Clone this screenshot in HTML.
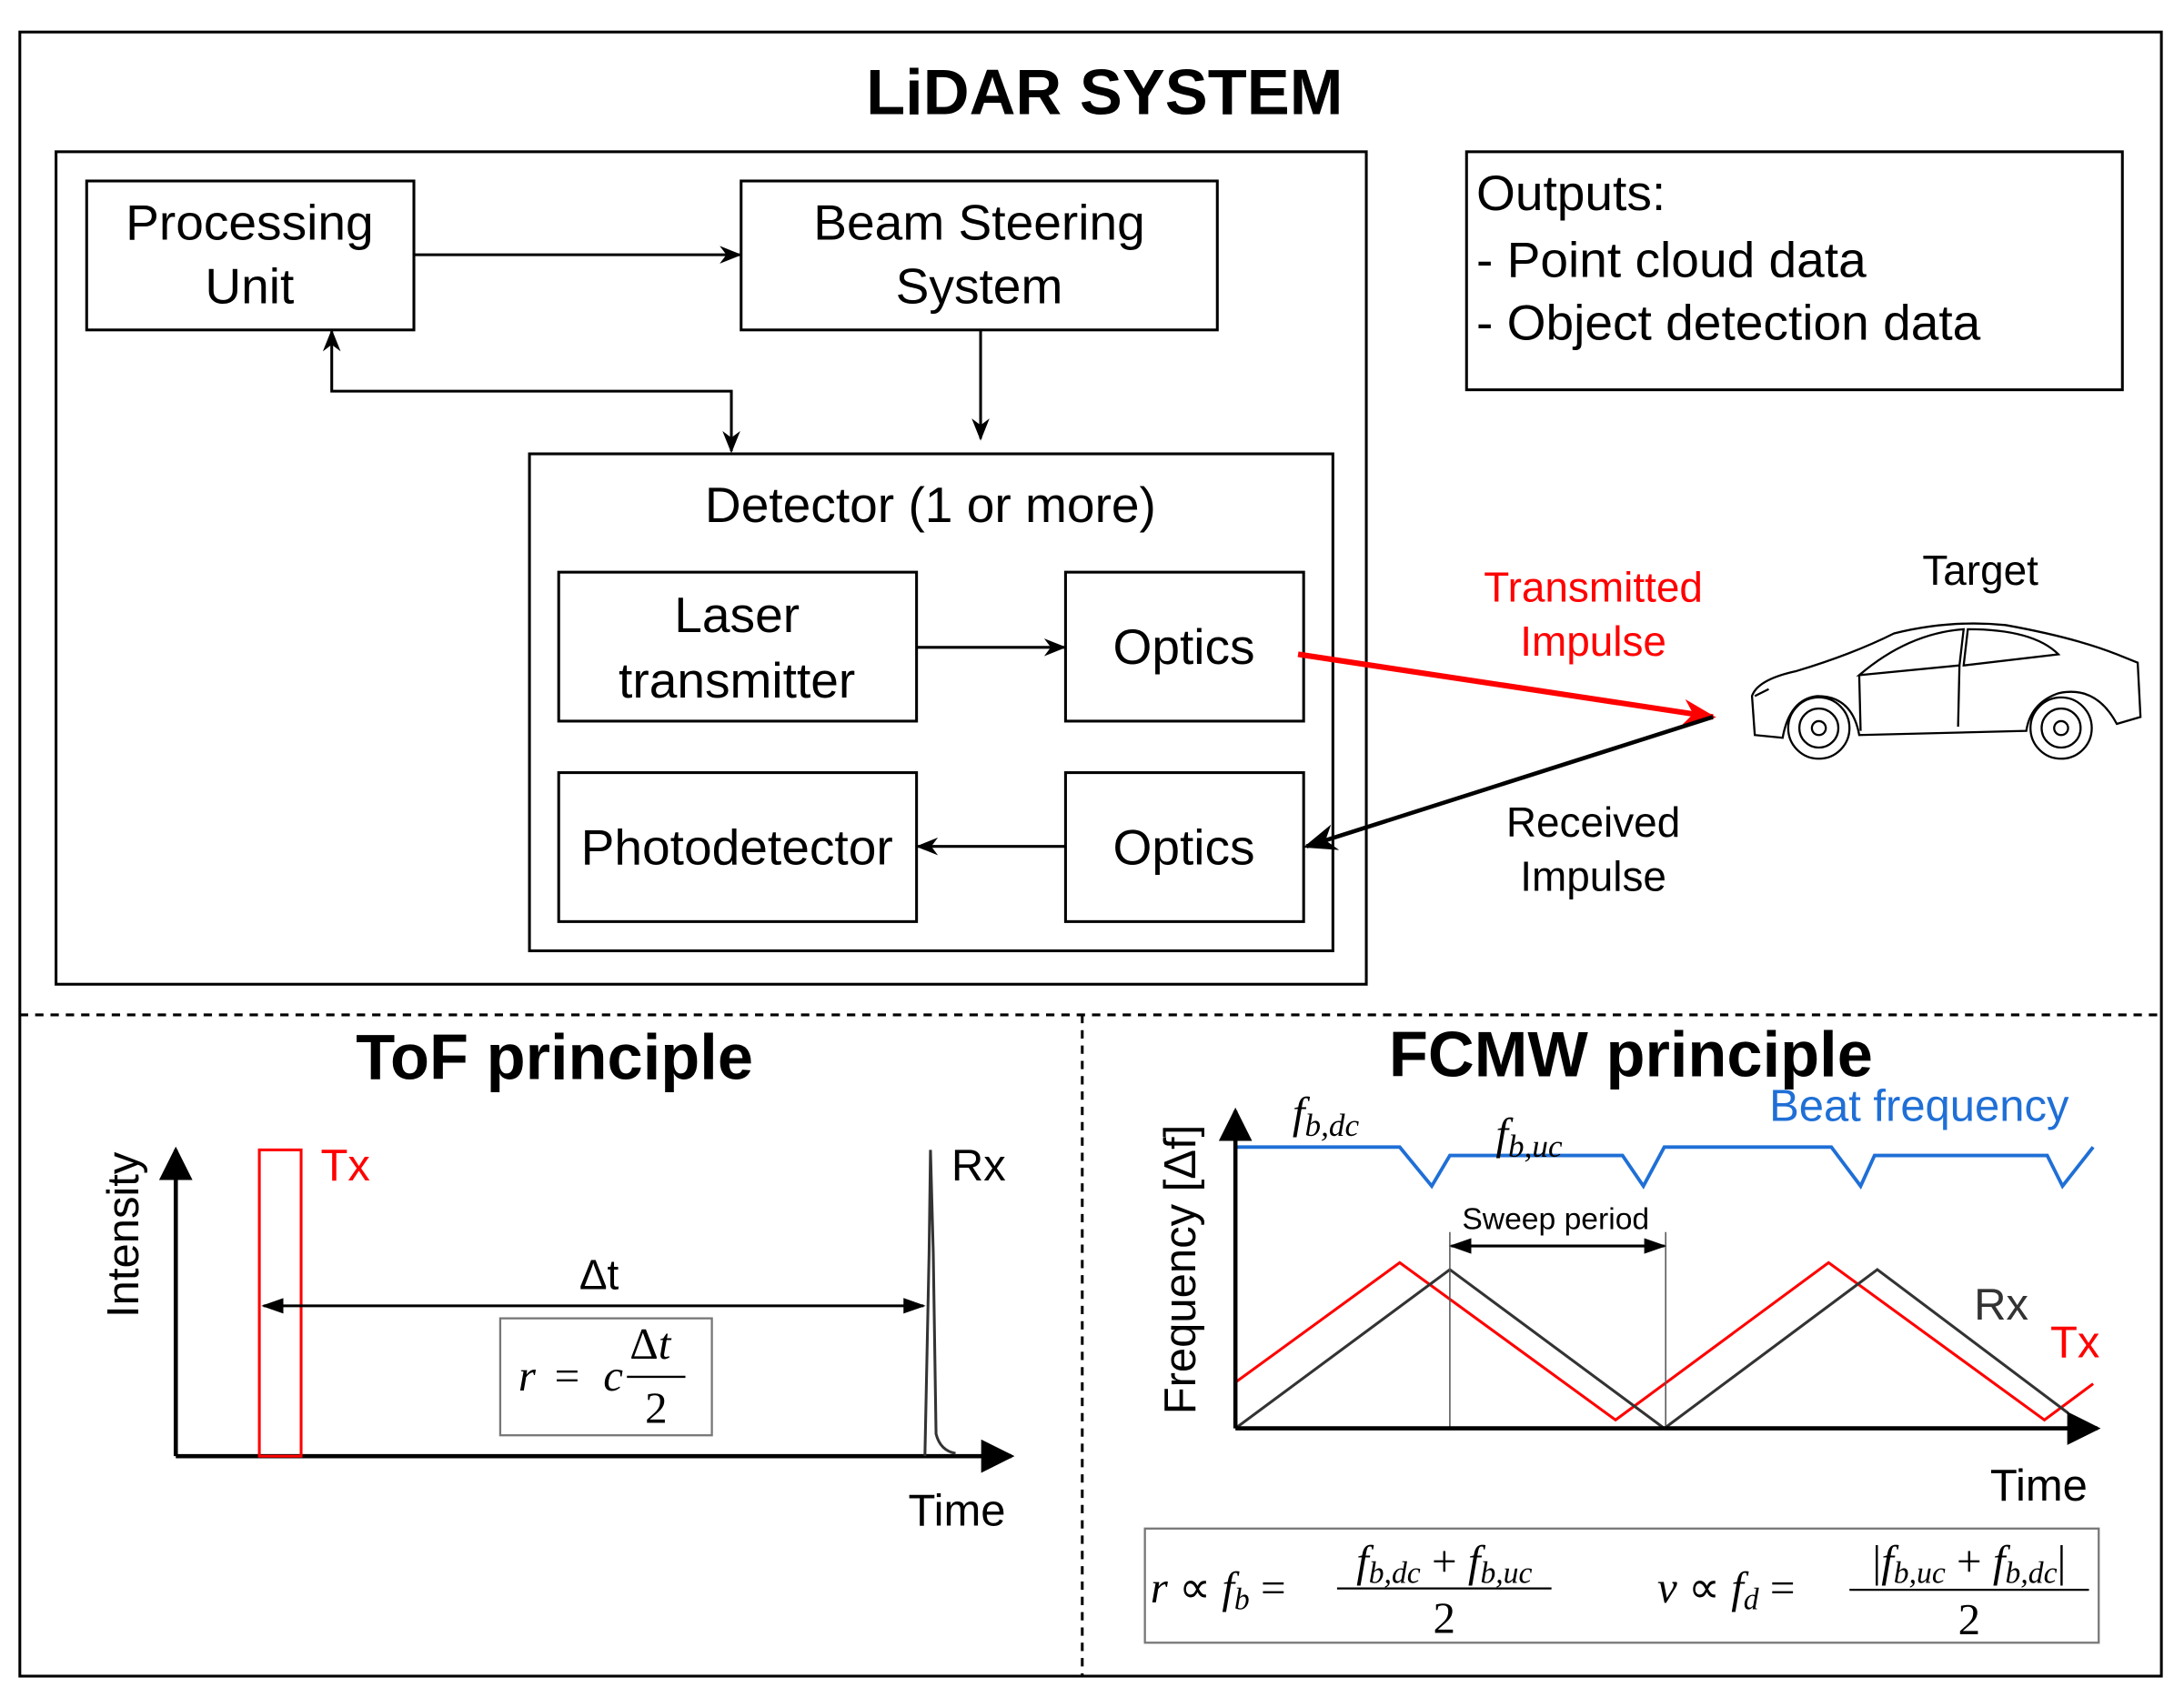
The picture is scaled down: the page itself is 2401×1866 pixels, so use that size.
<!DOCTYPE html>
<html><head><meta charset="utf-8"><style>html,body{margin:0;padding:0;background:#fff}svg{display:block}</style></head>
<body>
<svg width="2401" height="1866" viewBox="0 0 1568 1219" xmlns="http://www.w3.org/2000/svg" font-family="Liberation Sans, sans-serif">
<defs>
<marker id="a" viewBox="0 0 10 10" refX="9" refY="5" markerWidth="16" markerHeight="16" orient="auto-start-reverse" markerUnits="userSpaceOnUse"><path d="M0,1 L10,5 L0,9 L3,5z" fill="#000"/></marker>
<marker id="ab" viewBox="0 0 10 10" refX="9" refY="5" markerWidth="16" markerHeight="16" orient="auto-start-reverse" markerUnits="userSpaceOnUse"><path d="M0,1.5 L10,5 L0,8.5z" fill="#000"/></marker>
<marker id="ar" viewBox="0 0 10 10" refX="9" refY="5" markerWidth="24" markerHeight="24" orient="auto" markerUnits="userSpaceOnUse"><path d="M0,1 L10,5 L0,9 L3,5z" fill="red"/></marker>
<marker id="ak" viewBox="0 0 10 10" refX="9" refY="5" markerWidth="24" markerHeight="24" orient="auto" markerUnits="userSpaceOnUse"><path d="M0,1 L10,5 L0,9 L3,5z" fill="#000"/></marker>
<marker id="am" viewBox="0 0 10 10" refX="9" refY="5" markerWidth="24" markerHeight="24" orient="auto" markerUnits="userSpaceOnUse"><path d="M0,0 L10,5 L0,10z" fill="#000"/></marker>
</defs>
<rect x="14" y="23" width="1538" height="1181" fill="none" stroke="#000" stroke-width="2"/>
<text x="793" y="82" font-size="46" font-weight="bold" text-anchor="middle">LiDAR SYSTEM</text>
<g fill="none" stroke="#000" stroke-width="2">
<rect x="40" y="109" width="941" height="598"/>
<rect x="62" y="130" width="235" height="107"/>
<rect x="532" y="130" width="342" height="107"/>
<rect x="1053" y="109" width="471" height="171"/>
<rect x="380" y="326" width="577" height="357"/>
<rect x="401" y="411" width="257" height="107"/>
<rect x="765" y="411" width="171" height="107"/>
<rect x="401" y="555" width="257" height="107"/>
<rect x="765" y="555" width="171" height="107"/>
<line x1="297" y1="183" x2="531" y2="183" marker-end="url(#a)"/>
<polyline points="238,238 238,281 525,281 525,324" marker-start="url(#a)" marker-end="url(#a)"/>
<line x1="704" y1="237" x2="704" y2="315" marker-end="url(#a)"/>
<line x1="658" y1="465" x2="764" y2="465" marker-end="url(#a)"/>
<line x1="765" y1="608" x2="659" y2="608" marker-end="url(#a)"/>
<line x1="932" y1="470" x2="1230" y2="515" stroke="red" stroke-width="4" marker-end="url(#ar)"/>
<line x1="1230" y1="515" x2="938" y2="608" stroke-width="3" marker-end="url(#ak)"/>
</g>
<g font-size="36" text-anchor="middle">
<text x="179" y="172">Processing</text><text x="179" y="218">Unit</text>
<text x="703" y="172">Beam Steering</text><text x="703" y="218">System</text>
<text x="668" y="375">Detector (1 or more)</text>
<text x="529" y="454">Laser</text><text x="529" y="501">transmitter</text>
<text x="850" y="477">Optics</text>
<text x="529" y="621">Photodetector</text>
<text x="850" y="621">Optics</text>
</g>
<g font-size="36"><text x="1060" y="151">Outputs:</text><text x="1060" y="199">- Point cloud data</text><text x="1060" y="244">- Object detection data</text></g>
<g font-size="30" text-anchor="middle">
<text x="1144" y="432" fill="red">Transmitted</text><text x="1144" y="471" fill="red">Impulse</text>
<text x="1144" y="601">Received</text><text x="1144" y="640">Impulse</text>
<text x="1422" y="420">Target</text>
</g>
<g fill="none" stroke="#000" stroke-width="1.5">
<path d="M1260,528 L1258,500 Q1262,488 1290,482 Q1330,470 1360,455 Q1400,445 1440,449 Q1490,458 1520,470 L1535,476 L1537,515 L1520,520 Q1505,492 1478,498 Q1458,505 1455,525 L1335,528 Q1330,500 1305,500 Q1285,502 1280,530 Z"/>
<circle cx="1306" cy="523" r="22"/><circle cx="1306" cy="523" r="14"/><circle cx="1306" cy="523" r="5"/>
<circle cx="1480" cy="523" r="22"/><circle cx="1480" cy="523" r="14"/><circle cx="1480" cy="523" r="5"/>
<path d="M1335,485 Q1370,455 1410,452 L1407,478 Z M1413,452 Q1460,452 1478,470 L1410,478 Z"/>
<path d="M1407,478 L1406,522 M1335,485 L1336,525 M1260,500 L1270,495"/>
</g>
<g stroke="#000" stroke-width="2" stroke-dasharray="6,5"><line x1="14" y1="729" x2="1552" y2="729"/><line x1="777" y1="729" x2="777" y2="1204"/></g>
<text x="398" y="775" font-size="46" font-weight="bold" text-anchor="middle">ToF principle</text>
<text x="1171" y="773" font-size="46" font-weight="bold" text-anchor="middle">FCMW principle</text>
<g fill="none" stroke="#000" stroke-width="3">
<line x1="126" y1="1046" x2="126" y2="826" marker-end="url(#am)"/>
<line x1="126" y1="1046" x2="726" y2="1046" marker-end="url(#am)"/>
</g>
<rect x="186" y="826" width="30" height="220" fill="none" stroke="red" stroke-width="2"/>
<path d="M664,1046 L667,900 L668,826 L670,900 L672,1030 Q675,1042 686,1044" fill="none" stroke="#333" stroke-width="2"/>
<line x1="189" y1="938" x2="663" y2="938" stroke="#000" stroke-width="2" marker-start="url(#ab)" marker-end="url(#ab)"/>
<rect x="359" y="947" width="152" height="84" fill="none" stroke="#777" stroke-width="1.5"/>
<g font-family="Liberation Serif, serif" font-size="32" font-style="italic">
<text x="372" y="999">r</text><text x="398" y="999" font-style="normal">=</text><text x="433" y="999">c</text>
<text x="452" y="976" font-style="normal">Δ<tspan font-style="italic">t</tspan></text>
<line x1="450" y1="989" x2="492" y2="989" stroke="#000" stroke-width="1.5"/>
<text x="471" y="1022" font-style="normal" text-anchor="middle">2</text>
</g>
<text x="230" y="848" font-size="32" fill="red">Tx</text>
<text x="683" y="848" font-size="32">Rx</text>
<text x="430" y="926" font-size="30" text-anchor="middle">Δt</text>
<text x="687" y="1096" font-size="32" text-anchor="middle">Time</text>
<text transform="translate(99,887) rotate(-90)" font-size="32" text-anchor="middle">Intensity</text>
<polyline points="887,824 1005,824 1028,852 1041,830 1165,830 1180,852 1195,824 1315,824 1336,852 1346,830 1470,830 1481,852 1503,824" fill="none" stroke="#1f6fd6" stroke-width="2.5"/>
<polyline points="887,993 1005,907 1160,1020 1313,907 1468,1020 1503,994" fill="none" stroke="red" stroke-width="2"/>
<polyline points="887,1026 1041,912 1195,1026 1348,912 1485,1015" fill="none" stroke="#333" stroke-width="2"/>
<g stroke="#555" stroke-width="1"><line x1="1041" y1="885" x2="1041" y2="1026"/><line x1="1196" y1="885" x2="1196" y2="1026"/></g>
<line x1="1042" y1="895" x2="1195" y2="895" stroke="#000" stroke-width="2" marker-start="url(#ab)" marker-end="url(#ab)"/>
<g fill="none" stroke="#000" stroke-width="3">
<line x1="887" y1="1026" x2="887" y2="798" marker-end="url(#am)"/>
<line x1="887" y1="1026" x2="1506" y2="1026" marker-end="url(#am)"/>
</g>
<text x="1117" y="883" font-size="22" text-anchor="middle">Sweep period</text>
<text x="1437" y="948" font-size="32" fill="#333" text-anchor="middle">Rx</text>
<text x="1490" y="975" font-size="32" fill="red" text-anchor="middle">Tx</text>
<text x="1464" y="1078" font-size="32" text-anchor="middle">Time</text>
<text x="1378" y="805" font-size="32" fill="#1f6fd6" text-anchor="middle">Beat frequency</text>
<text transform="translate(858,912) rotate(-90)" font-size="32" text-anchor="middle">Frequency [Δf]</text>
<g font-family="Liberation Serif, serif" font-style="italic">
<text x="928" y="810" font-size="32">f<tspan font-size="23" dy="6">b,dc</tspan></text>
<text x="1074" y="825" font-size="32">f<tspan font-size="23" dy="6">b,uc</tspan></text>
</g>
<rect x="822" y="1098" width="685" height="82" fill="none" stroke="#777" stroke-width="1.5"/>
<g font-family="Liberation Serif, serif" font-size="32">
<text x="826" y="1151"><tspan font-style="italic">r</tspan> ∝ <tspan font-style="italic">f</tspan><tspan font-size="22" dy="5" font-style="italic">b</tspan><tspan dy="-5"> =</tspan></text>
<text x="1037" y="1132" text-anchor="middle" font-style="italic">f<tspan font-size="22" dy="5">b,dc</tspan><tspan dy="-5" font-style="normal"> + </tspan>f<tspan font-size="22" dy="5">b,uc</tspan></text>
<line x1="960" y1="1141" x2="1114" y2="1141" stroke="#000" stroke-width="1.5"/>
<text x="1037" y="1173" text-anchor="middle">2</text>
<text x="1190" y="1151"><tspan font-style="italic">v</tspan> ∝ <tspan font-style="italic">f</tspan><tspan font-size="22" dy="5" font-style="italic">d</tspan><tspan dy="-5"> =</tspan></text>
<text x="1414" y="1132" text-anchor="middle" font-style="italic"><tspan font-style="normal">|</tspan>f<tspan font-size="22" dy="5">b,uc</tspan><tspan dy="-5" font-style="normal"> + </tspan>f<tspan font-size="22" dy="5">b,dc</tspan><tspan dy="-5" font-style="normal">|</tspan></text>
<line x1="1328" y1="1142" x2="1500" y2="1142" stroke="#000" stroke-width="1.5"/>
<text x="1414" y="1174" text-anchor="middle">2</text>
</g>
</svg>
</body></html>
